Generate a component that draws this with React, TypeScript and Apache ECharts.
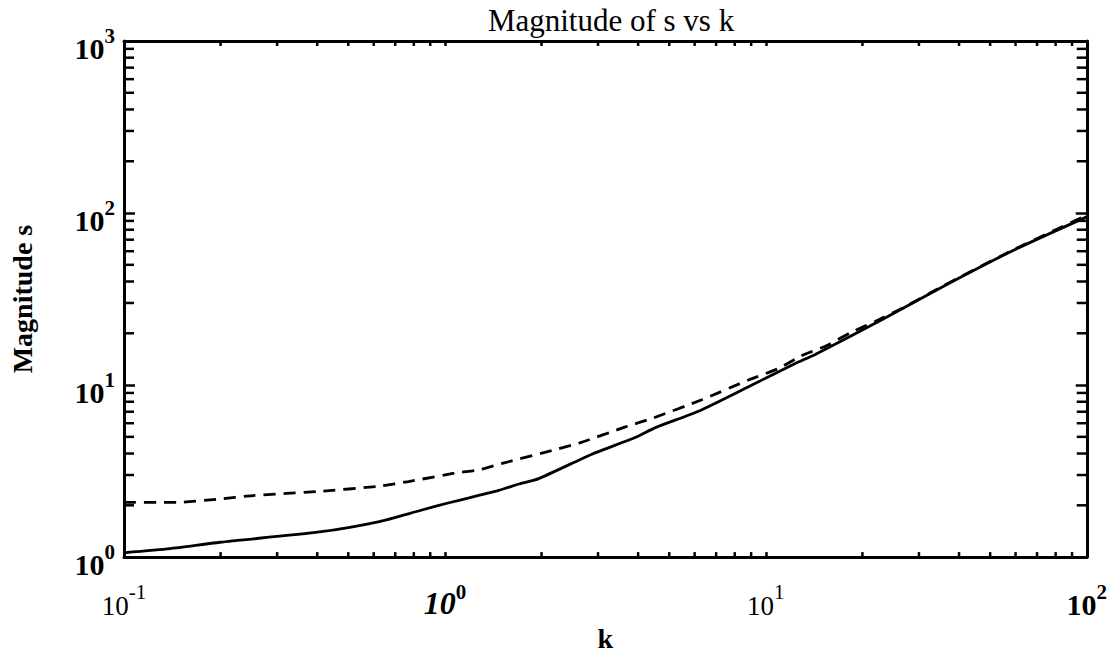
import { useEffect, useRef } from "react";
import * as echarts from "echarts";

// Solid curve: |s| against k
const kSolid = [0.1, 0.139, 0.199, 0.406, 0.625, 0.832, 1.03, 1.19, 1.47, 1.7, 1.96, 2.87, 3.93, 4.53, 6.17, 8.83, 12.3, 14.2, 22.9, 36.9, 59.6, 100];
const sSolid = [1.06, 1.12, 1.22, 1.4, 1.61, 1.86, 2.07, 2.21, 2.44, 2.66, 2.86, 3.96, 4.97, 5.66, 7.05, 9.78, 13.3, 15.0, 23.9, 38.7, 61.2, 95];

// Dashed curve
const kDashed = [0.1, 0.146, 0.195, 0.252, 0.406, 0.62, 0.77, 1.1, 1.26, 1.53, 2.16, 2.61, 3.65, 4.42, 6.32, 8.83, 10.97, 12.9, 15.5, 18.5, 21.9, 26.5, 32, 37, 60, 100];
const sDashed = [2.08, 2.08, 2.17, 2.28, 2.41, 2.58, 2.75, 3.1, 3.2, 3.53, 4.17, 4.59, 5.71, 6.4, 8.22, 10.7, 12.5, 14.8, 17.0, 20.3, 23.4, 27.9, 33.7, 39.1, 62, 97];

// Axis ranges
const xMin = 0.1;
const xMax = 100;
const yMin = 1;
const yMax = 1000;

// Tick labels (exponents of ten) and their type styles
const xTickExp = ["-1", "0", "1", "2"];
const xTickStyle = ["reg", "bi", "reg", "bold"];
const yTickExp = ["0", "1", "2", "3"];

// Minor tick positions inside each decade
const xDecades = [0.1, 1, 10];
const yDecades = [1, 10, 100];
const minorSteps = [2, 3, 4, 5, 6, 7, 8, 9];

const FONT = "'Liberation Serif', 'Times New Roman', serif";

export default function App() {
  const ref = useRef<HTMLDivElement>(null);

  useEffect(() => {
    if (!ref.current) return;
    const chart = echarts.init(ref.current, undefined, { renderer: "svg" });

    const xMinor: number[] = [];
    xDecades.forEach((d) => minorSteps.forEach((m) => xMinor.push(+(d * m).toPrecision(3))));
    const yMinor: number[] = [];
    yDecades.forEach((d) => minorSteps.forEach((m) => yMinor.push(+(d * m).toPrecision(3))));

    const tickStyle = { stroke: "#000", lineWidth: 2.5 };

    // base "10" and raised exponent share one 44px line
    const baseRich = (size: number, weight: string, style: string) => ({
      fontFamily: FONT,
      fontSize: size,
      fontWeight: weight,
      fontStyle: style,
      color: "#000",
      lineHeight: 44,
      verticalAlign: "bottom",
    });
    const supRich = (weight: string) => ({
      fontFamily: FONT,
      fontSize: 21,
      fontWeight: weight,
      color: "#000",
      lineHeight: 21,
      verticalAlign: "bottom",
      padding: [0, 0, 17, 0],
    });

    const xRich = {
      reg: baseRich(27, "normal", "normal"),
      regS: supRich("normal"),
      bi: baseRich(32, "bold", "italic"),
      biS: supRich("bold"),
      bold: baseRich(30, "bold", "normal"),
      boldS: supRich("bold"),
    };
    const yRich = {
      b: baseRich(30, "bold", "normal"),
      bS: supRich("bold"),
    };

    const idx = (v: number, offset: number) => Math.round(Math.log10(v)) + offset;

    chart.setOption({
      animation: false,
      backgroundColor: "#fff",
      title: {
        text: "Magnitude of s vs k",
        left: 606,
        top: 0,
        textAlign: "center",
        textStyle: { fontFamily: FONT, fontSize: 31, fontWeight: "normal", color: "#000" },
      },
      grid: { left: 124, top: 41, right: 22, bottom: 88 },
      xAxis: [
        {
          type: "log",
          logBase: 10,
          min: xMin,
          max: xMax,
          position: "bottom",
          name: "k",
          nameLocation: "middle",
          nameGap: 52,
          nameTextStyle: { fontFamily: FONT, fontSize: 28, fontWeight: "bold", color: "#000" },
          axisLine: { show: true, onZero: false, lineStyle: { color: "#000", width: 3 } },
          axisTick: { show: true, inside: true, length: 5, lineStyle: { color: "#000", width: 2.5 } },
          splitLine: { show: false },
          axisLabel: {
            show: true,
            margin: 18,
            showMinLabel: true,
            showMaxLabel: true,
            formatter: (v: number) => {
              const i = idx(v, 1);
              const s = xTickStyle[i] ?? "reg";
              return `{${s}|10}{${s}S|${xTickExp[i] ?? ""}}`;
            },
            rich: xRich,
          },
        },
        {
          type: "log",
          logBase: 10,
          min: xMin,
          max: xMax,
          position: "top",
          axisLine: { show: true, onZero: false, lineStyle: { color: "#000", width: 3 } },
          axisTick: { show: true, inside: true, length: 5, lineStyle: { color: "#000", width: 2.5 } },
          axisLabel: { show: false },
          splitLine: { show: false },
        },
      ],
      yAxis: [
        {
          type: "log",
          logBase: 10,
          min: yMin,
          max: yMax,
          position: "left",
          name: "Magnitude s",
          nameLocation: "middle",
          nameGap: 88,
          nameRotate: 90,
          nameTextStyle: { fontFamily: FONT, fontSize: 28, fontWeight: "bold", color: "#000" },
          axisLine: { show: true, onZero: false, lineStyle: { color: "#000", width: 3 } },
          axisTick: { show: true, inside: true, length: 11, lineStyle: { color: "#000", width: 2.5 } },
          splitLine: { show: false },
          axisLabel: {
            show: true,
            margin: 9,
            showMinLabel: true,
            showMaxLabel: true,
            formatter: (v: number) => `{b|10}{bS|${yTickExp[idx(v, 0)] ?? ""}}`,
            rich: yRich,
          },
        },
        {
          type: "log",
          logBase: 10,
          min: yMin,
          max: yMax,
          position: "right",
          axisLine: { show: true, onZero: false, lineStyle: { color: "#000", width: 3 } },
          axisTick: { show: true, inside: true, length: 11, lineStyle: { color: "#000", width: 2.5 } },
          axisLabel: { show: false },
          splitLine: { show: false },
        },
      ],
      series: [
        {
          type: "line",
          data: kSolid.map((k, i) => [k, sSolid[i]]),
          showSymbol: false,
          symbol: "none",
          smooth: 0.2,
          lineStyle: { color: "#000", width: 2.8 },
          z: 3,
        },
        {
          type: "line",
          data: kDashed.map((k, i) => [k, sDashed[i]]),
          showSymbol: false,
          symbol: "none",
          smooth: 0.2,
          lineStyle: { color: "#000", width: 2.8, type: [12, 8] },
          z: 3,
        },
        {
          // minor ticks along the bottom and top edges
          type: "custom",
          silent: true,
          clip: false,
          z: 4,
          data: xMinor.map((v) => [v, yMin]),
          renderItem: (_p: any, api: any) => {
            const v = api.value(0);
            const b = api.coord([v, yMin]);
            const t = api.coord([v, yMax]);
            return {
              type: "group",
              children: [
                { type: "line", shape: { x1: b[0], y1: b[1], x2: b[0], y2: b[1] - 5 }, style: tickStyle },
                { type: "line", shape: { x1: t[0], y1: t[1], x2: t[0], y2: t[1] + 5 }, style: tickStyle },
              ],
            };
          },
        },
        {
          // minor ticks along the left and right edges
          type: "custom",
          silent: true,
          clip: false,
          z: 4,
          data: yMinor.map((v) => [xMin, v]),
          renderItem: (_p: any, api: any) => {
            const v = api.value(1);
            const l = api.coord([xMin, v]);
            const r = api.coord([xMax, v]);
            return {
              type: "group",
              children: [
                { type: "line", shape: { x1: l[0], y1: l[1], x2: l[0] + 10, y2: l[1] }, style: tickStyle },
                { type: "line", shape: { x1: r[0], y1: r[1], x2: r[0] - 10, y2: r[1] }, style: tickStyle },
              ],
            };
          },
        },
      ],
    });

    return () => chart.dispose();
  }, []);

  return (
    <div
      ref={ref}
      style={{ position: "fixed", left: 0, top: 0, width: 1110, height: 657, background: "#fff" }}
    />
  );
}
